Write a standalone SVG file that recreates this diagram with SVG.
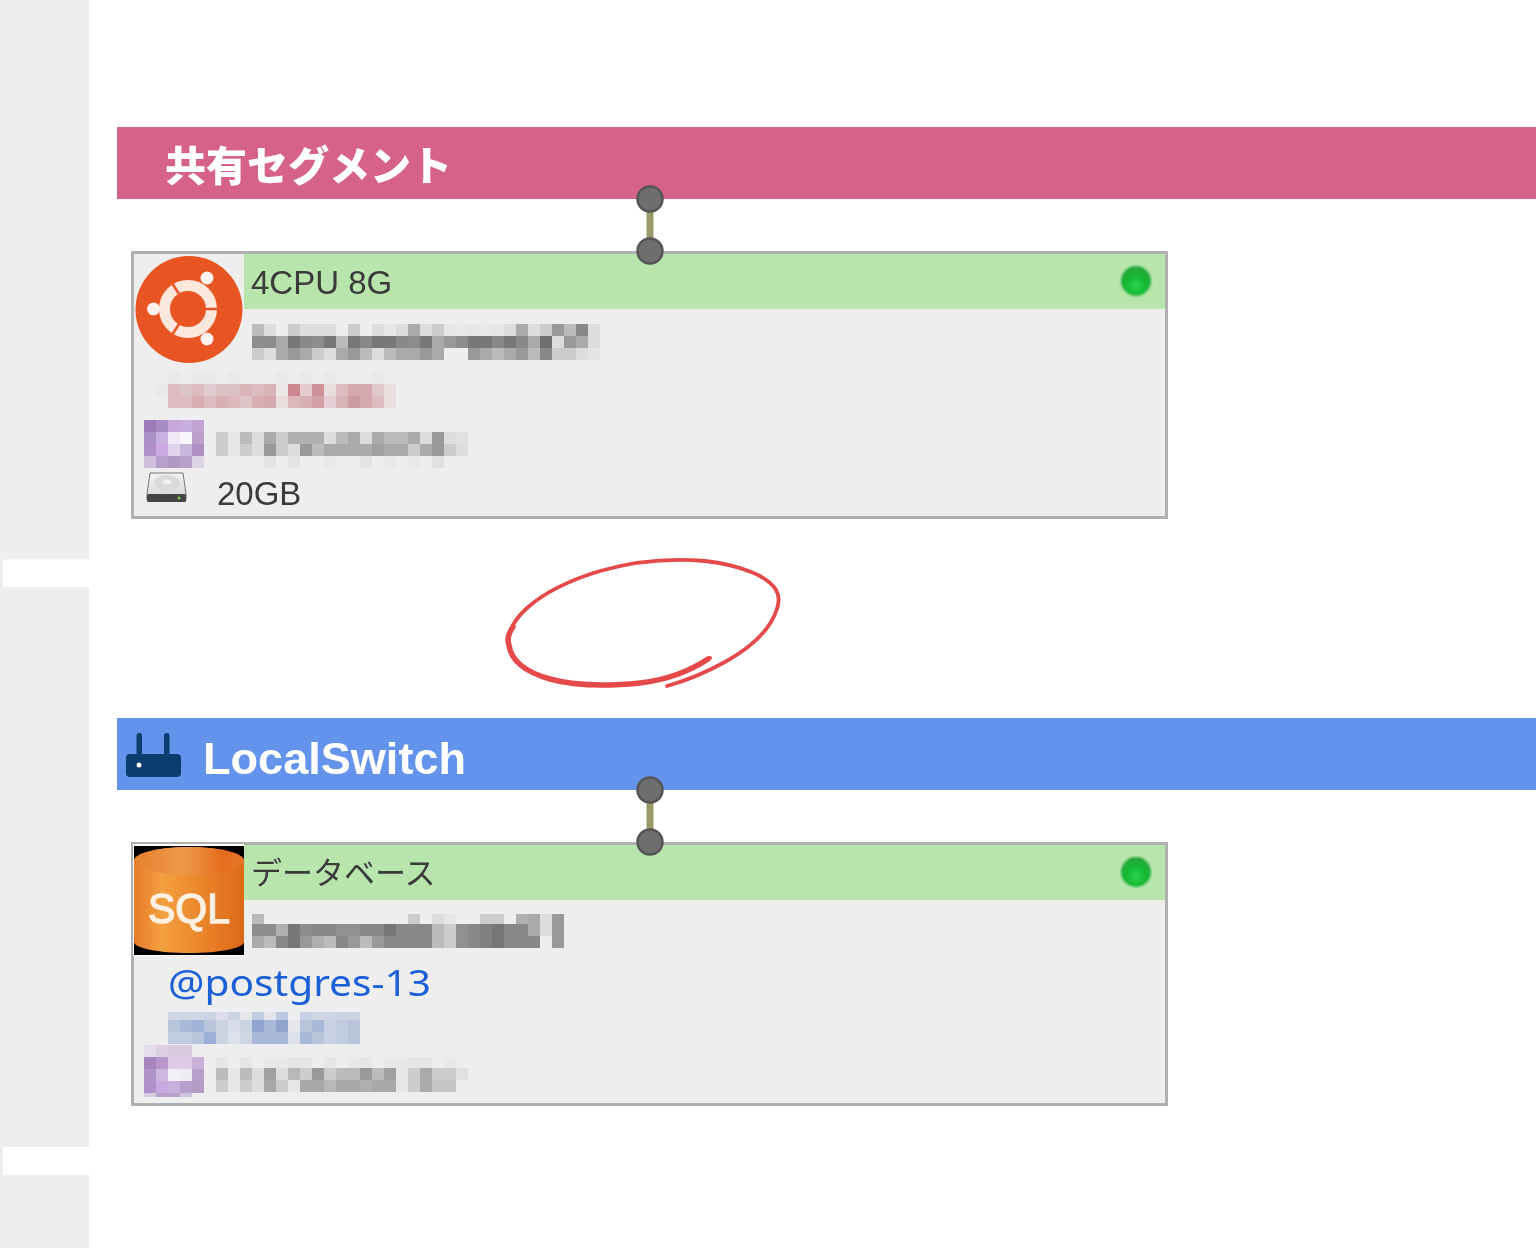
<svg xmlns="http://www.w3.org/2000/svg" width="1536" height="1248" viewBox="0 0 1536 1248">
<style>
.panel{fill:#eee;stroke:#b0b0b0;stroke-width:3}
.head{fill:#b8e5ab}
.t{font-family:"Liberation Sans",Arial,sans-serif;font-size:33px;fill:#3a3a3a}
.j{font-family:"Noto Sans CJK JP","Noto Sans",sans-serif;font-size:31px;fill:#3a3a3a}
.h{font-family:"Noto Sans CJK JP","Liberation Sans",sans-serif;font-weight:900;fill:#fff}
.port{fill:#6e6e6e;stroke:#555;stroke-width:2.5}
.link{stroke:#9a9a68;stroke-width:7}
.m rect{width:12px;height:12px}
.soft{filter:url(#s)}
.softer{filter:url(#s2)}
.glow{filter:url(#s3)}
</style>
<defs>
<filter id="s" x="-5%" y="-5%" width="110%" height="110%"><feGaussianBlur stdDeviation="0.7"/></filter>
<filter id="s2" x="-5%" y="-5%" width="110%" height="110%"><feGaussianBlur stdDeviation="0.4"/></filter>
<filter id="s3" x="-20%" y="-20%" width="140%" height="140%"><feGaussianBlur stdDeviation="1.2"/></filter>
<radialGradient id="led" cx="50%" cy="65%" r="60%"><stop offset="0" stop-color="#2ad44a"/><stop offset=".55" stop-color="#14b834"/><stop offset="1" stop-color="#27a83e"/></radialGradient>
<linearGradient id="can" x1="0" x2="1" y1="0" y2="0"><stop offset="0" stop-color="#e87a28"/><stop offset=".25" stop-color="#f2a040"/><stop offset=".55" stop-color="#ec8a2e"/><stop offset="1" stop-color="#de6818"/></linearGradient>
<linearGradient id="canTop" x1="0" x2="1" y1="0" y2="0"><stop offset="0" stop-color="#e68030"/><stop offset=".45" stop-color="#ee9a4a"/><stop offset=".8" stop-color="#e56c1e"/><stop offset="1" stop-color="#e57428"/></linearGradient>
<linearGradient id="disk" x1="0" x2="0" y1="0" y2="1"><stop offset="0" stop-color="#f2f2f2"/><stop offset="1" stop-color="#d6d6d6"/></linearGradient>
</defs>
<rect width="1536" height="1248" fill="#fff"/>
<g id="sidebar" fill="#eee">
<rect x="0" y="0" width="89" height="559.500"/>
<rect x="0" y="587" width="89" height="560"/>
<rect x="0" y="1175" width="89" height="73"/>
<rect x="0" y="559" width="3" height="28"/>
<rect x="0" y="1147" width="3" height="28"/>
</g>
<g id="segment-shared">
<rect x="117" y="127" width="1419" height="72" fill="#d76288"/>
<text class="h soft" x="165" y="181" font-size="41">共有セグメント</text>
</g>
<g id="segment-local">
<rect x="117" y="718" width="1419" height="72" fill="#6493eb"/>
<g class="soft" fill="#0c3c6e">
<rect x="126" y="754" width="55" height="23" rx="4"/>
<rect x="136.500" y="733" width="5.500" height="24" rx="2.500"/>
<rect x="164" y="733" width="5.500" height="24" rx="2.500"/>
<circle cx="139" cy="765" r="2.500" fill="#fff"/>
</g>
<text class="h soft" x="203" y="774" font-size="44" textLength="263" lengthAdjust="spacingAndGlyphs" style="font-family:'Liberation Sans',sans-serif;font-weight:700">LocalSwitch</text>
</g>
<g id="server-ubuntu">
<rect class="panel" x="132.500" y="252.500" width="1034" height="265"/>
<rect class="head" x="244" y="254" width="921" height="55"/>
<g id="ubuntu-logo" class="soft">
<circle cx="189" cy="309.500" r="53.500" fill="#e95420"/>
<circle cx="188" cy="309" r="23.500" fill="none" stroke="#fbe7dc" stroke-width="11"/>
<g stroke="#e95420" stroke-width="2.500">
<line x1="205" y1="309" x2="218" y2="309"/>
<line x1="179" y1="294" x2="172" y2="283"/>
<line x1="179" y1="324" x2="172" y2="335"/>
</g>
<circle cx="207" cy="278" r="6.500" fill="#fdf3ee"/>
<circle cx="153.500" cy="309" r="6.500" fill="#fdf3ee"/>
<circle cx="207" cy="339" r="6.500" fill="#fdf3ee"/>
</g>
<text class="t soft" x="251" y="294">4CPU 8G</text>
<circle cx="1136" cy="281" r="15" fill="url(#led)" class="glow"/>
<g class="m softer">
<g transform="translate(0,324)"><rect x="252" fill="#bbb"/><rect x="264" fill="#ddd"/><rect x="276" fill="#eee"/><rect x="288" fill="#ccc"/><rect x="300" fill="#ddd"/><rect x="312" fill="#ddd"/><rect x="324" fill="#ddd"/><rect x="336" fill="#eee"/><rect x="348" fill="#ccc"/><rect x="360" fill="#eee"/><rect x="372" fill="#ddd"/><rect x="384" fill="#e6e6e6"/><rect x="396" fill="#ddd"/><rect x="408" fill="#aaa"/><rect x="420" fill="#ddd"/><rect x="432" fill="#ccc"/><rect x="444" fill="#e6e6e6"/><rect x="456" fill="#e8e8e8"/><rect x="468" fill="#e6e6e6"/><rect x="480" fill="#e8e8e8"/><rect x="492" fill="#e6e6e6"/><rect x="504" fill="#ddd"/><rect x="516" fill="#aaa"/><rect x="528" fill="#ddd"/><rect x="540" fill="#ccc"/><rect x="552" fill="#999"/><rect x="564" fill="#bbb"/><rect x="576" fill="#888"/><rect x="588" fill="#ddd"/></g>
<g transform="translate(0,336)"><rect x="252" fill="#8c8c8c"/><rect x="264" fill="#8c8c8c"/><rect x="276" fill="#aaa"/><rect x="288" fill="#777"/><rect x="300" fill="#888"/><rect x="312" fill="#8c8c8c"/><rect x="324" fill="#777"/><rect x="336" fill="#bbb"/><rect x="348" fill="#777"/><rect x="360" fill="#888"/><rect x="372" fill="#777"/><rect x="384" fill="#777"/><rect x="396" fill="#888"/><rect x="408" fill="#8c8c8c"/><rect x="420" fill="#777"/><rect x="432" fill="#aaa"/><rect x="444" fill="#999"/><rect x="456" fill="#8c8c8c"/><rect x="468" fill="#777"/><rect x="480" fill="#777"/><rect x="492" fill="#888"/><rect x="504" fill="#777"/><rect x="516" fill="#888"/><rect x="528" fill="#aaa"/><rect x="540" fill="#707070"/><rect x="552" fill="#ddd"/><rect x="564" fill="#999"/><rect x="576" fill="#aaa"/><rect x="588" fill="#ddd"/></g>
<g transform="translate(0,348)"><rect x="252" fill="#ccc"/><rect x="264" fill="#ddd"/><rect x="276" fill="#aaa"/><rect x="288" fill="#999"/><rect x="300" fill="#aaa"/><rect x="312" fill="#ccc"/><rect x="324" fill="#ddd"/><rect x="336" fill="#aaa"/><rect x="348" fill="#999"/><rect x="360" fill="#bbb"/><rect x="372" fill="#ddd"/><rect x="384" fill="#bbb"/><rect x="396" fill="#aaa"/><rect x="408" fill="#aaa"/><rect x="420" fill="#999"/><rect x="432" fill="#aaa"/><rect x="444" fill="#eee"/><rect x="456" fill="#eee"/><rect x="468" fill="#999"/><rect x="480" fill="#aaa"/><rect x="492" fill="#bbb"/><rect x="504" fill="#aaa"/><rect x="516" fill="#999"/><rect x="528" fill="#bbb"/><rect x="540" fill="#888"/><rect x="552" fill="#ccc"/><rect x="564" fill="#ccc"/><rect x="576" fill="#ddd"/><rect x="588" fill="#e4e4e4"/></g>
<g transform="translate(0,372)"><rect x="168" fill="#ebe8e8"/><rect x="192" fill="#ebe8e8"/><rect x="204" fill="#ebe8e8"/><rect x="228" fill="#ebe8e8"/><rect x="276" fill="#ebe8e8"/><rect x="300" fill="#ebe8e8"/><rect x="324" fill="#ebe8e8"/><rect x="372" fill="#ebe8e8"/></g>
<g transform="translate(0,384)"><rect x="156" fill="#ebe8e8"/><rect x="168" fill="#dcbcc0"/><rect x="180" fill="#dcc4c8"/><rect x="192" fill="#dcbcc0"/><rect x="204" fill="#e0ccd0"/><rect x="216" fill="#dcc0c4"/><rect x="228" fill="#dcc0c4"/><rect x="240" fill="#d8b4b8"/><rect x="252" fill="#dcbcc0"/><rect x="264" fill="#d8b4b8"/><rect x="276" fill="#ece8e8"/><rect x="288" fill="#cc8890"/><rect x="300" fill="#e4ccd0"/><rect x="312" fill="#cc9098"/><rect x="324" fill="#e8dcdc"/><rect x="336" fill="#dcbcc0"/><rect x="348" fill="#d4a8ac"/><rect x="360" fill="#d4a8ac"/><rect x="372" fill="#e0c8cc"/><rect x="384" fill="#eadede"/></g>
<g transform="translate(0,396)"><rect x="168" fill="#dcbcc0"/><rect x="180" fill="#dcbcc0"/><rect x="192" fill="#d8b0b4"/><rect x="204" fill="#dcbcc0"/><rect x="216" fill="#d8b0b4"/><rect x="228" fill="#dcb8bc"/><rect x="240" fill="#e0c4c8"/><rect x="252" fill="#d8b0b4"/><rect x="264" fill="#d4a8ac"/><rect x="276" fill="#e8dcdc"/><rect x="288" fill="#dcb8bc"/><rect x="300" fill="#d8b0b4"/><rect x="312" fill="#d4a0a8"/><rect x="324" fill="#e4d0d4"/><rect x="336" fill="#d8b4b8"/><rect x="348" fill="#cc9ca0"/><rect x="360" fill="#d4a8ac"/><rect x="372" fill="#dcbcc0"/><rect x="384" fill="#eadede"/></g>
<g transform="translate(0,420)"><rect x="144" fill="#9c7ab8"/><rect x="156" fill="#a88cc4"/><rect x="168" fill="#c8a8dc"/><rect x="180" fill="#c8aee0"/><rect x="192" fill="#c0a4d4"/></g>
<g transform="translate(0,432)"><rect x="144" fill="#ac90c8"/><rect x="156" fill="#c8b0e0"/><rect x="168" fill="#f0eaf6"/><rect x="180" fill="#f8f6fa"/><rect x="192" fill="#bca0cc"/></g>
<g transform="translate(0,444)"><rect x="144" fill="#b090c8"/><rect x="156" fill="#cca8e4"/><rect x="168" fill="#e0d4ec"/><rect x="180" fill="#c8b8dc"/><rect x="192" fill="#b090c4"/></g>
<g transform="translate(0,456)"><rect x="144" fill="#d0c0dc"/><rect x="156" fill="#b8a0cc"/><rect x="168" fill="#b098c4"/><rect x="180" fill="#b8a0c8"/><rect x="192" fill="#dcd4e4"/></g>
<g transform="translate(0,432)"><rect x="216" fill="#ccc"/><rect x="228" fill="#e6e6e6"/><rect x="240" fill="#bbb"/><rect x="252" fill="#ddd"/><rect x="264" fill="#aaa"/><rect x="276" fill="#ccc"/><rect x="288" fill="#b0b0b0"/><rect x="300" fill="#b0b0b0"/><rect x="312" fill="#b0b0b0"/><rect x="324" fill="#ddd"/><rect x="336" fill="#bbb"/><rect x="348" fill="#aaa"/><rect x="360" fill="#ddd"/><rect x="372" fill="#aaa"/><rect x="384" fill="#bbb"/><rect x="396" fill="#bbb"/><rect x="408" fill="#aaa"/><rect x="420" fill="#ddd"/><rect x="432" fill="#999"/><rect x="444" fill="#ddd"/><rect x="456" fill="#e0e0e0"/></g>
<g transform="translate(0,444)"><rect x="216" fill="#ccc"/><rect x="228" fill="#e6e6e6"/><rect x="240" fill="#ccc"/><rect x="252" fill="#ddd"/><rect x="264" fill="#999"/><rect x="276" fill="#ccc"/><rect x="288" fill="#ddd"/><rect x="300" fill="#999"/><rect x="312" fill="#bbb"/><rect x="324" fill="#aaa"/><rect x="336" fill="#aaa"/><rect x="348" fill="#aaa"/><rect x="360" fill="#aaa"/><rect x="372" fill="#a0a0a0"/><rect x="384" fill="#aaa"/><rect x="396" fill="#aaa"/><rect x="408" fill="#ccc"/><rect x="420" fill="#aaa"/><rect x="432" fill="#999"/><rect x="444" fill="#ccc"/><rect x="456" fill="#ddd"/></g>
<g transform="translate(0,456)"><rect x="264" fill="#e4e4e4"/><rect x="288" fill="#e4e4e4"/><rect x="324" fill="#e8e8e8"/><rect x="360" fill="#e4e4e4"/><rect x="384" fill="#e8e8e8"/><rect x="408" fill="#e8e8e8"/><rect x="432" fill="#e0e0e0"/></g>
</g>
<g id="disk-icon" class="soft">
<path d="M150 473h33l3 21v6h-39v-6z" fill="url(#disk)" stroke="#777" stroke-width="1"/>
<ellipse cx="167" cy="483" rx="13" ry="8" fill="#dadada"/>
<ellipse cx="167" cy="482" rx="4" ry="2.500" fill="#f0f0f0"/>
<rect x="147" y="494" width="39" height="8" rx="1.500" fill="#444"/>
<circle cx="179" cy="498" r="1.500" fill="#7ccc5a"/>
</g>
<text class="t soft" x="217" y="505">20GB</text>
</g>
<g id="server-database">
<rect class="panel" x="132.500" y="843.500" width="1034" height="261"/>
<rect class="head" x="244" y="845" width="921" height="55"/>
<g id="sql-icon" class="soft">
<rect x="133" y="844" width="111" height="112" fill="#fff"/>
<rect x="134" y="846" width="110" height="109" fill="#000"/>
<path d="M134 860c0-6 24-13 55-13s55 7 55 13v82c0 6-24 11-55 11s-55-5-55-11z" fill="url(#can)"/>
<ellipse cx="189" cy="861" rx="55" ry="14" fill="url(#canTop)"/>
<text x="189" y="923" text-anchor="middle" font-family="'Liberation Sans',sans-serif" font-size="43" stroke="#fdf0e0" stroke-width="1.500" fill="#fdf0e0" textLength="82" lengthAdjust="spacingAndGlyphs">SQL</text>
</g>
<text class="j soft" x="251" y="884">データベース</text>
<circle cx="1136" cy="872" r="15" fill="url(#led)" class="glow"/>
<g class="m softer">
<g transform="translate(0,914)"><rect x="252" fill="#bbb"/><rect x="408" fill="#ccc"/><rect x="432" fill="#ddd"/><rect x="444" fill="#e6e6e6"/><rect x="480" fill="#ccc"/><rect x="492" fill="#ccc"/><rect x="516" fill="#b0b0b0"/><rect x="528" fill="#aaa"/><rect x="540" fill="#ddd"/><rect x="552" fill="#999"/></g>
<g transform="translate(0,924)"><rect x="252" fill="#8c8c8c"/><rect x="264" fill="#8c8c8c"/><rect x="276" fill="#b0b0b0"/><rect x="288" fill="#777"/><rect x="300" fill="#8c8c8c"/><rect x="312" fill="#888"/><rect x="324" fill="#888"/><rect x="336" fill="#909090"/><rect x="348" fill="#909090"/><rect x="360" fill="#888"/><rect x="372" fill="#888"/><rect x="384" fill="#777"/><rect x="396" fill="#888"/><rect x="408" fill="#888"/><rect x="420" fill="#888"/><rect x="432" fill="#bbb"/><rect x="444" fill="#ccc"/><rect x="456" fill="#909090"/><rect x="468" fill="#888"/><rect x="480" fill="#808080"/><rect x="492" fill="#777"/><rect x="504" fill="#888"/><rect x="516" fill="#888"/><rect x="528" fill="#aaa"/><rect x="540" fill="#ddd"/><rect x="552" fill="#999"/></g>
<g transform="translate(0,936)"><rect x="252" fill="#aaa"/><rect x="264" fill="#bbb"/><rect x="276" fill="#888"/><rect x="288" fill="#777"/><rect x="300" fill="#999"/><rect x="312" fill="#b0b0b0"/><rect x="324" fill="#bbb"/><rect x="336" fill="#888"/><rect x="348" fill="#999"/><rect x="360" fill="#bbb"/><rect x="372" fill="#999"/><rect x="384" fill="#888"/><rect x="396" fill="#888"/><rect x="408" fill="#888"/><rect x="420" fill="#888"/><rect x="432" fill="#bbb"/><rect x="444" fill="#ccc"/><rect x="456" fill="#909090"/><rect x="468" fill="#888"/><rect x="480" fill="#808080"/><rect x="492" fill="#777"/><rect x="504" fill="#888"/><rect x="516" fill="#888"/><rect x="528" fill="#888"/><rect x="552" fill="#999"/></g>
<g transform="translate(0,1012)"><rect x="168" fill="#d0d6e4"/><rect x="180" fill="#d0d6e4"/><rect x="192" fill="#d0d6e4"/><rect x="204" fill="#ccd4e4"/><rect x="216" fill="#dde"/><rect x="228" fill="#ccd4e4"/><rect x="240" fill="#e4e6ec"/><rect x="252" fill="#c0cce0"/><rect x="264" fill="#e4e6ec"/><rect x="276" fill="#bcc8e0"/><rect x="300" fill="#c8d0e4"/><rect x="312" fill="#d0d6e4"/><rect x="324" fill="#d0d6e4"/><rect x="336" fill="#ccd4e4"/><rect x="348" fill="#ccd4e4"/></g>
<g transform="translate(0,1020)"><rect x="168" fill="#b8c4dc"/><rect x="180" fill="#a8b8d8"/><rect x="192" fill="#a0b4d8"/><rect x="204" fill="#b8c4dc"/><rect x="216" fill="#ccd4e4"/><rect x="228" fill="#d8dce8"/><rect x="240" fill="#ccd4e4"/><rect x="252" fill="#90a4d0"/><rect x="264" fill="#a8b8d8"/><rect x="276" fill="#90a4cc"/><rect x="288" fill="#e4e6ec"/><rect x="300" fill="#b8c4dc"/><rect x="312" fill="#a8b8d8"/><rect x="324" fill="#c8d0e4"/><rect x="336" fill="#c0cce0"/><rect x="348" fill="#b8c4dc"/></g>
<g transform="translate(0,1032)"><rect x="168" fill="#c0cce0"/><rect x="180" fill="#c0cce0"/><rect x="192" fill="#b8c4dc"/><rect x="204" fill="#9cb0d8"/><rect x="216" fill="#ccd4e4"/><rect x="228" fill="#dce0ea"/><rect x="240" fill="#d0d6e4"/><rect x="252" fill="#a8b8d8"/><rect x="264" fill="#a8b8d8"/><rect x="276" fill="#a8b8d8"/><rect x="288" fill="#dce0ea"/><rect x="300" fill="#a8b8d8"/><rect x="312" fill="#b8c4dc"/><rect x="324" fill="#c8d0e4"/><rect x="336" fill="#c0cce0"/><rect x="348" fill="#b8c4dc"/></g>
<g transform="translate(0,1045)"><rect x="144" fill="#e4dce8"/><rect x="156" fill="#dcd0e4"/><rect x="168" fill="#d8c8e0"/><rect x="180" fill="#d8c8e0"/></g>
<g transform="translate(0,1057)"><rect x="144" fill="#a884c0"/><rect x="156" fill="#b898cc"/><rect x="168" fill="#e0c8e8"/><rect x="180" fill="#e0c8e8"/><rect x="192" fill="#c8b0d8"/></g>
<g transform="translate(0,1069)"><rect x="144" fill="#b094c8"/><rect x="156" fill="#ccb8dc"/><rect x="168" fill="#f4f0f8"/><rect x="180" fill="#f0ecf4"/><rect x="192" fill="#b8a0cc"/></g>
<g transform="translate(0,1081)"><rect x="144" fill="#b090c8"/><rect x="156" fill="#c8a8e0"/><rect x="168" fill="#c8b0dc"/><rect x="180" fill="#b8a0cc"/><rect x="192" fill="#b49cc4"/></g>
<g transform="translate(0,1093)"><rect x="144" style="height:4px" fill="#d8cce0"/><rect x="156" style="height:4px" fill="#b8a0cc"/><rect x="168" style="height:4px" fill="#b8a0cc"/><rect x="180" style="height:4px" fill="#d0c4dc"/></g>
<g transform="translate(0,1057)"><rect x="216" fill="#e6e6e6"/><rect x="240" fill="#e6e6e6"/><rect x="264" fill="#e8e8e8"/><rect x="276" fill="#e8e8e8"/><rect x="288" fill="#e6e6e6"/><rect x="300" fill="#e6e6e6"/><rect x="324" fill="#e6e6e6"/><rect x="348" fill="#e8e8e8"/><rect x="360" fill="#e6e6e6"/><rect x="384" fill="#e8e8e8"/><rect x="396" fill="#e8e8e8"/><rect x="408" fill="#e6e6e6"/><rect x="420" fill="#e6e6e6"/><rect x="444" fill="#e8e8e8"/></g>
<g transform="translate(0,1068)"><rect x="216" fill="#bbb"/><rect x="228" fill="#e6e6e6"/><rect x="240" fill="#bbb"/><rect x="252" fill="#ddd"/><rect x="264" fill="#a0a0a0"/><rect x="276" fill="#ddd"/><rect x="288" fill="#b8b8b8"/><rect x="300" fill="#ccc"/><rect x="312" fill="#999"/><rect x="324" fill="#ccc"/><rect x="336" fill="#bbb"/><rect x="348" fill="#bbb"/><rect x="360" fill="#999"/><rect x="372" fill="#bbb"/><rect x="384" fill="#a0a0a0"/><rect x="396" fill="#e6e6e6"/><rect x="408" fill="#ccc"/><rect x="420" fill="#aaa"/><rect x="432" fill="#ccc"/><rect x="444" fill="#ccc"/><rect x="456" fill="#e0e0e0"/></g>
<g transform="translate(0,1080)"><rect x="216" fill="#ccc"/><rect x="228" fill="#e6e6e6"/><rect x="240" fill="#ccc"/><rect x="252" fill="#ddd"/><rect x="264" fill="#a8a8a8"/><rect x="276" fill="#ccc"/><rect x="288" fill="#e6e6e6"/><rect x="300" fill="#a8a8a8"/><rect x="312" fill="#a8a8a8"/><rect x="324" fill="#b8b8b8"/><rect x="336" fill="#a8a8a8"/><rect x="348" fill="#a8a8a8"/><rect x="360" fill="#b0b0b0"/><rect x="372" fill="#a8a8a8"/><rect x="384" fill="#a8a8a8"/><rect x="396" fill="#e6e6e6"/><rect x="408" fill="#ccc"/><rect x="420" fill="#aaa"/><rect x="432" fill="#c4c4c4"/><rect x="444" fill="#c4c4c4"/></g>
</g>
<text class="soft" x="168" y="996" font-family="'Noto Sans','Liberation Sans',sans-serif" font-size="37" fill="#1a5fd6" textLength="263" lengthAdjust="spacingAndGlyphs">@postgres-13</text>
</g>
<g id="connectors">
<line class="link" x1="650" y1="199" x2="650" y2="251"/>
<line class="link" x1="650" y1="790" x2="650" y2="842"/>
</g>
<g id="ports" class="softer">
<circle class="port" cx="650" cy="199" r="12.500"/>
<circle class="port" cx="650" cy="251" r="12.500"/>
<circle class="port" cx="650" cy="790" r="12.500"/>
<circle class="port" cx="650" cy="842" r="12.500"/>
</g>
<g id="red-circle" fill="none" stroke="#e64a4a" stroke-linecap="round" class="softer">
<path stroke-width="3.800" d="M667 686C685 681 705 673 725 662C745 651 762 637 771 622C778 610 781 598 776 590C768 576 740 565 705 561C670 558 635 561 600 571C570 580 545 592 527 608C514 620 507 632 509 645C511 660 525 672 550 679C575 686 610 686 640 683C665 680 690 671 710 658"/>
<path stroke-width="5.500" d="M513 627C508 634 507 640 509 645C511 660 525 672 550 679C575 686 610 686 640 683C665 680 690 671 708 659"/>
</g>
</svg>
